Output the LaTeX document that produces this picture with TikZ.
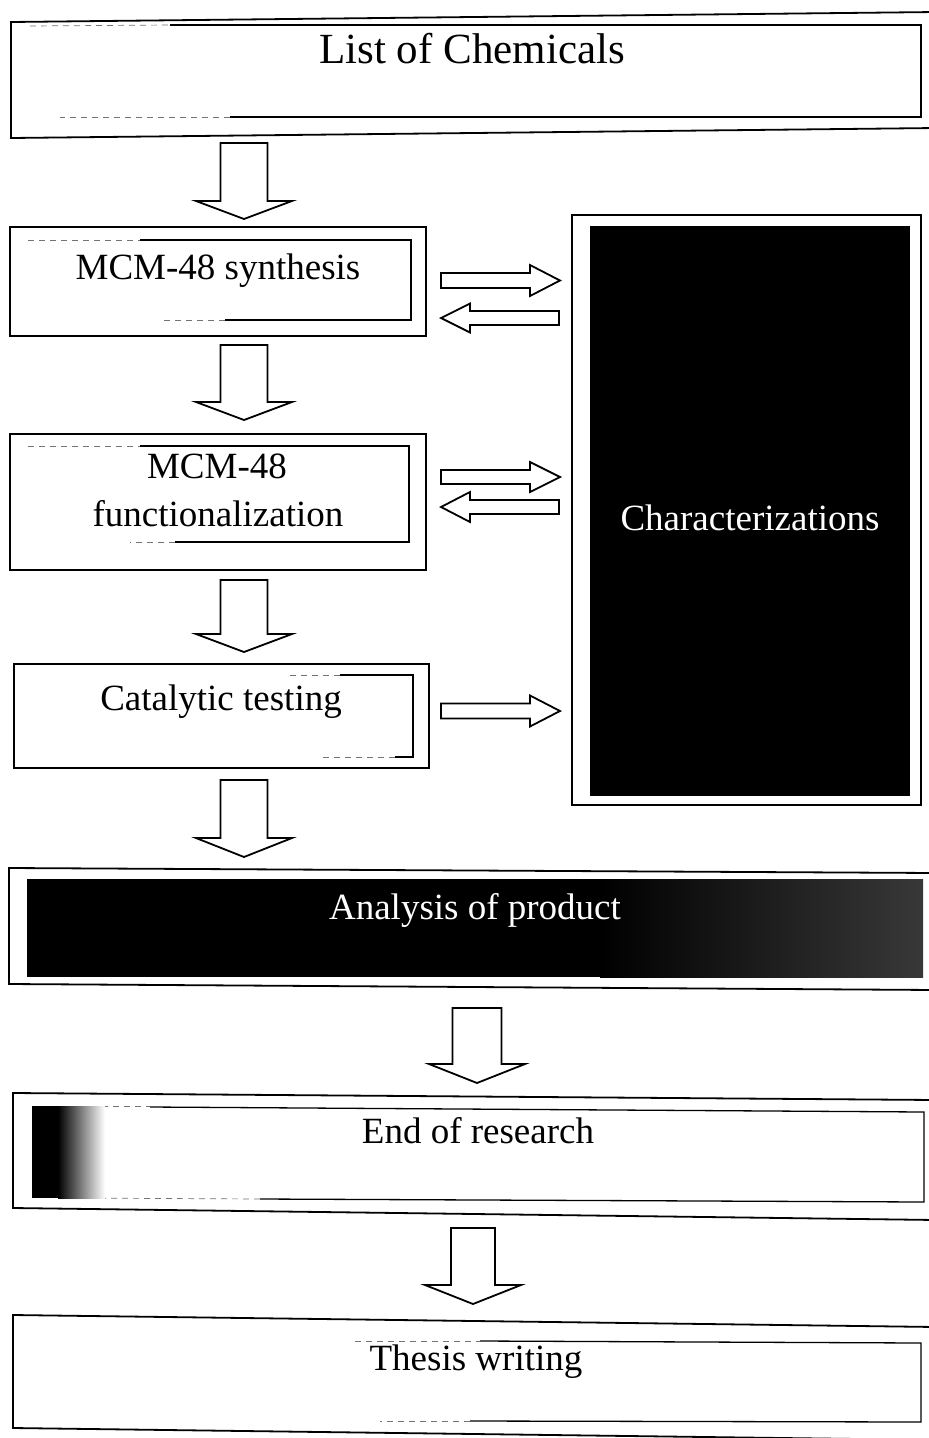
\documentclass[tikz,border=0pt]{standalone}
\usepackage{fontspec}
\setmainfont{Liberation Serif}
\usetikzlibrary{calc}
\tikzset{
  outerline/.style={draw=black, line width=1.8pt, line join=miter},
  innerline/.style={draw=black, line width=1.3pt},
  faintline/.style={draw=black!55, line width=0.7pt, dash pattern=on 6pt off 5pt},
  barrow/.style={draw=black, line width=1.8pt, fill=white, line join=miter},
  lbl/.style={anchor=base, inner sep=0pt, font=\fontsize{37}{44}\selectfont},
  biglbl/.style={anchor=base, inner sep=0pt, font=\fontsize{43}{50}\selectfont},
  whitelbl/.style={anchor=base, inner sep=0pt, text=white, font=\fontsize{37}{44}\selectfont},
}
% down block arrow: cx, ytop, ybase, ytip, shaft half width, head half width
\newcommand\blockdown[6]{%
  \draw[barrow] ({#1-#5},#2) -- ({#1+#5},#2) -- ({#1+#5},#3) -- ({#1+#6},#3)
    -- (#1,#4) -- ({#1-#6},#3) -- ({#1-#5},#3) -- cycle;}
% right block arrow: xstart, yc, xbase, xtip, shaft half, head half
\newcommand\blockright[6]{%
  \draw[barrow] (#1,{#2-#5}) -- (#3,{#2-#5}) -- (#3,{#2-#6}) -- (#4,#2)
    -- (#3,{#2+#6}) -- (#3,{#2+#5}) -- (#1,{#2+#5}) -- cycle;}
% left block arrow: xtip, yc, xbase, xend, shaft half, head half
\newcommand\blockleft[6]{%
  \draw[barrow] (#4,{#2-#5}) -- (#3,{#2-#5}) -- (#3,{#2-#6}) -- (#1,#2)
    -- (#3,{#2+#6}) -- (#3,{#2+#5}) -- (#4,{#2+#5}) -- cycle;}
\begin{document}
\begin{tikzpicture}[x=1pt,y=-1pt]
\useasboundingbox[fill=white] (0,0) rectangle (929,1438);

% ---------- Box 1: List of Chemicals ----------
\draw[outerline] (11,22) -- (936,12) -- (936,128) -- (11,138) -- cycle;
\draw[faintline] (30,26) -- (170,25);
\draw[innerline] (170,25) -- (921,25) -- (921,117) -- (230,117);
\draw[faintline] (230,117) -- (60,117);
\node[biglbl] (chem) at (472,63) {List of Chemicals};

\blockdown{244}{143}{201}{219}{23.5}{48}

% ---------- Box 2: MCM-48 synthesis ----------
\draw[outerline] (10,227) rectangle (426,336);
\draw[faintline] (28,240) -- (140,240);
\draw[innerline] (140,240) -- (411,240) -- (411,320) -- (225,320);
\draw[faintline] (225,320) -- (160,320);
\node[lbl] (syn) at (218,279) {MCM-48 synthesis};

\blockright{441}{280.5}{530}{560}{7.5}{15.5}
\blockleft{441}{318}{470}{559}{7}{14.5}

\blockdown{244}{345}{402}{420}{23.5}{48}

% ---------- Box 3: MCM-48 functionalization ----------
\draw[outerline] (10,434) rectangle (426,570);
\draw[faintline] (28,446) -- (140,446);
\draw[innerline] (140,446) -- (409,446) -- (409,542) -- (175,542);
\draw[faintline] (175,542) -- (130,542);
\node[lbl] (fun1) at (217,478) {MCM-48};
\node[lbl] (fun2) at (218,526) {functionalization};

\blockright{441}{477}{530}{560}{7}{15}
\blockleft{441}{507}{470}{559}{7}{15}

\blockdown{244}{580}{634}{652}{23.5}{48}

% ---------- Box 4: Catalytic testing ----------
\draw[outerline] (14,664) rectangle (429,768);
\draw[faintline] (290,675) -- (340,675);
\draw[innerline] (340,675) -- (413,675) -- (413,757) -- (395,757);
\draw[faintline] (395,757) -- (320,757);
\node[lbl] (cat) at (221,710) {Catalytic testing};

\blockright{441}{711}{530}{560}{7.5}{15.5}

% ---------- Characterizations ----------
\draw[outerline] (572,215) rectangle (921,805);
\fill[black] (590,226) rectangle (910,796);
\node[whitelbl] (char) at (750,530) {Characterizations};

\blockdown{244}{780}{838}{857}{23.5}{48}

% ---------- Analysis of product ----------
\draw[outerline] (9,868) -- (936,873) -- (936,990) -- (9,984) -- cycle;
\fill[black] (27,879) rectangle (923,977);
\shade[left color=black, right color=black!78] (600,879) rectangle (923,977);
\node[whitelbl] (ana) at (475,919) {Analysis of product};

\blockdown{477}{1008}{1064}{1083}{24.5}{48}

% ---------- End of research ----------
\draw[outerline] (13,1093) -- (936,1100) -- (936,1220) -- (13,1208) -- cycle;
\draw[faintline] (80,1106) -- (150,1106);
\draw[innerline] (150,1107) -- (924,1112) -- (924,1202) -- (260,1199);
\draw[faintline] (260,1199) -- (70,1198);
\fill[black] (32,1106) rectangle (58,1198);
\shade[left color=black, right color=white] (58,1106) rectangle (105,1198);
\node[lbl] (end) at (478,1143) {End of research};

\blockdown{473}{1228}{1285}{1304}{22}{48}

% ---------- Thesis writing ----------
\draw[outerline] (13,1315) -- (936,1327) -- (936,1440) -- (13,1428) -- cycle;
\draw[faintline] (355,1341) -- (480,1341);
\draw[innerline] (480,1341) -- (921,1343) -- (921,1422) -- (470,1421);
\draw[faintline] (470,1421) -- (380,1421);
\node[lbl] (thesis) at (476,1370) {Thesis writing};
\end{tikzpicture}
\end{document}
